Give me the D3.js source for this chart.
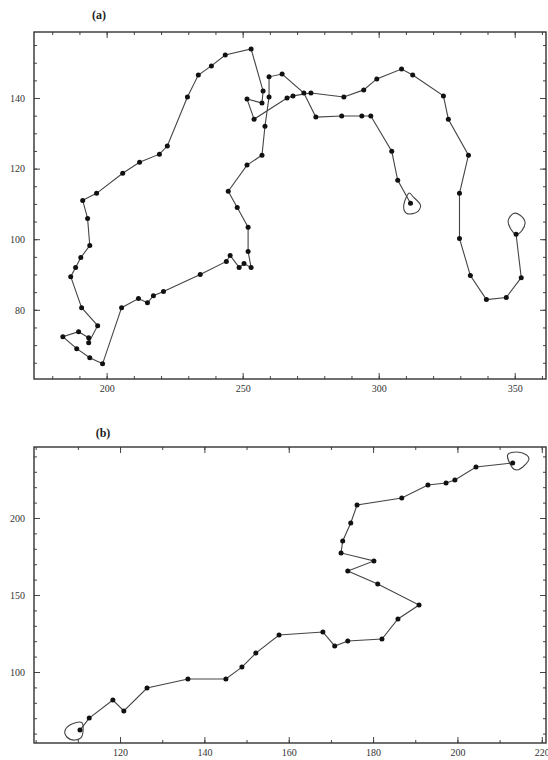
<!DOCTYPE html>
<html>
<head>
<meta charset="utf-8">
<script src="https://cdn.jsdelivr.net/npm/d3@7"></script>
<style>
	body { margin: 0; background: #fff; }
	svg { display: block; }
	.tick text { font-family: "Liberation Serif", "DejaVu Serif", serif; font-size: 10px; fill: #333; }
	.domain { stroke: none; }
	.tick line { stroke: #444; }
	.panel-label { font-family: "Liberation Serif", serif; font-weight: bold; font-size: 12px; fill: #222; }
</style>
</head>
<body>
<div id="chart"></div>
<script>
/* global d3 */

// panel (a): track
var trackA = [
	[350.5, 101.4], [352.4, 89.1], [346.9, 83.5], [339.6, 82.9], [333.7, 89.7],
	[329.7, 100.2], [329.7, 113.0], [333.0, 123.8], [325.6, 134.0], [323.8, 140.6],
	[312.5, 146.5], [308.4, 148.2], [299.3, 145.4], [294.5, 142.3], [287.2, 140.3],
	[275.1, 141.4], [268.5, 140.6], [266.3, 140.0], [254.2, 134.0], [251.6, 139.7],
	[257.1, 138.6], [257.5, 142.0], [253.1, 153.9], [243.6, 152.2], [238.5, 149.1],
	[233.7, 146.5], [229.7, 140.3], [222.3, 126.4], [219.4, 124.1], [212.1, 121.8],
	[205.9, 118.7], [196.3, 113.0], [191.2, 111.0], [193.0, 105.9], [193.8, 98.2],
	[190.5, 94.8], [188.6, 92.0], [186.8, 89.4], [190.8, 80.6], [196.7, 75.5],
	[193.4, 70.7], [193.4, 72.1], [189.7, 73.8], [183.9, 72.4], [189.0, 69.0],
	[193.8, 66.4], [198.5, 64.7], [205.5, 80.6], [211.7, 83.2], [215.0, 82.0],
	[217.2, 84.0], [220.9, 85.2], [234.4, 90.0], [244.0, 93.7], [245.4, 95.4],
	[248.7, 92.0], [250.5, 93.1], [253.1, 92.0], [252.0, 96.5], [252.0, 103.4],
	[248.0, 109.0], [244.7, 113.6], [251.6, 121.0], [257.1, 123.8], [258.2, 132.0],
	[259.7, 140.3], [259.7, 146.0], [264.5, 146.8], [272.5, 141.4], [276.9, 134.6],
	[286.4, 134.9], [293.8, 134.9], [297.1, 134.9], [304.8, 124.9], [307.0, 116.7],
	[311.7, 110.2]
];
var loopAStart = [[350.5, 101.4], [348.4, 103.1], [347.6, 105.3], [349.5, 107.3], [352.0, 106.8], [353.8, 104.8], [352.7, 102.5]];
var loopAEnd = [[311.0, 113.0], [309.2, 109.6], [310.3, 107.3], [313.9, 107.6], [315.4, 109.6], [312.8, 111.9]];
var xTicksA = [200, 250, 300, 350];
var yTicksA = [80, 100, 120, 140];

// panel (b)
var trackB = [
	[110.5, 62.3], [112.7, 70.1], [118.3, 81.8], [120.9, 74.7], [126.4, 89.6],
	[136.1, 95.5], [145.1, 95.5], [148.9, 103.2], [152.2, 112.3], [157.7, 124.0],
	[168.1, 126.0], [170.9, 116.9], [174.0, 120.1], [182.1, 121.4], [185.9, 134.4],
	[190.9, 143.5], [181.1, 157.1], [174.0, 165.6], [180.2, 172.1], [172.4, 177.3],
	[172.8, 185.1], [174.7, 196.8], [176.2, 208.4], [186.8, 213.0], [193.0, 221.4],
	[197.3, 222.7], [199.4, 224.7], [204.4, 233.1], [213.1, 235.7]
];
var loopBStart = [[111.0, 66.9], [108.6, 66.2], [107.0, 62.3], [107.4, 57.8], [109.3, 55.8], [111.0, 58.4]];
var loopBEnd = [[211.9, 240.9], [214.1, 242.9], [216.4, 240.9], [216.9, 237.7], [215.5, 233.1], [214.1, 231.2], [212.9, 233.1]];
var xTicksB = [120, 140, 160, 180, 200, 220];
var yTicksB = [100, 150, 200];

var svg = d3.select("#chart")
	.append("svg")
	.attr("width", 548)
	.attr("height", 760);

function panel(opt) {
	var width = opt.right - opt.left,
		height = opt.bottom - opt.top,
		g = svg.append("g").attr("transform", "translate(" + opt.left + "," + opt.top + ")"),
		x = d3.scaleLinear().domain(opt.xDomain).range([0, width]),
		y = d3.scaleLinear().domain(opt.yDomain).range([height, 0]);

	var minorX = d3.range(Math.ceil(opt.xDomain[0] / opt.xMinor) * opt.xMinor, opt.xDomain[1], opt.xMinor),
		minorY = d3.range(Math.ceil(opt.yDomain[0] / opt.yMinor) * opt.yMinor, opt.yDomain[1], opt.yMinor);

	// minor ticks, all four sides, pointing inward
	g.append("g").attr("transform", "translate(0," + height + ")")
		.call(d3.axisBottom(x).tickValues(minorX).tickSize(-3).tickFormat(""));
	g.append("g")
		.call(d3.axisTop(x).tickValues(minorX).tickSize(-3).tickFormat(""));
	g.append("g")
		.call(d3.axisLeft(y).tickValues(minorY).tickSize(-3).tickFormat(""));
	g.append("g").attr("transform", "translate(" + width + ",0)")
		.call(d3.axisRight(y).tickValues(minorY).tickSize(-3).tickFormat(""));

	// major ticks
	g.append("g").attr("transform", "translate(0," + height + ")")
		.call(d3.axisBottom(x).tickValues(opt.xTicks).tickSize(-6).tickPadding(6).tickFormat(d3.format("d")));
	g.append("g")
		.call(d3.axisTop(x).tickValues(opt.xTicks).tickSize(-6).tickFormat(""));
	g.append("g")
		.call(d3.axisLeft(y).tickValues(opt.yTicks).tickSize(-6).tickPadding(9).tickFormat(d3.format("d")));
	g.append("g").attr("transform", "translate(" + width + ",0)")
		.call(d3.axisRight(y).tickValues(opt.yTicks).tickSize(-6).tickFormat(""));

	g.append("rect")
		.attr("width", width)
		.attr("height", height)
		.attr("fill", "none")
		.attr("stroke", "#333")
		.attr("stroke-width", 1.4);

	var line = d3.line()
		.x(function(d) { return x(d[0]); })
		.y(function(d) { return y(d[1]); });

	g.append("path")
		.datum(opt.track)
		.attr("fill", "none")
		.attr("stroke", "#444")
		.attr("stroke-width", 1.1)
		.attr("d", line);

	var loopLine = d3.line()
		.x(function(d) { return x(d[0]); })
		.y(function(d) { return y(d[1]); })
		.curve(d3.curveCardinalClosed);

	opt.loops.forEach(function(lp) {
		g.append("path")
			.datum(lp)
			.attr("fill", "none")
			.attr("stroke", "#444")
			.attr("stroke-width", 1.1)
			.attr("d", loopLine);
	});

	g.selectAll("circle.pt")
		.data(opt.track)
		.enter().append("circle")
		.attr("class", "pt")
		.attr("r", 2.5)
		.attr("cx", function(d) { return x(d[0]); })
		.attr("cy", function(d) { return y(d[1]); })
		.attr("fill", "#111");

	svg.append("text")
		.attr("class", "panel-label")
		.attr("x", opt.labelX)
		.attr("y", opt.labelY)
		.attr("text-anchor", "middle")
		.text(opt.label);
}

panel({
	left: 34, top: 32, right: 546, bottom: 379,
	xDomain: [173.3, 361.5], yDomain: [60.4, 158.7],
	xTicks: xTicksA, yTicks: yTicksA, xMinor: 10, yMinor: 5,
	track: trackA, loops: [loopAStart, loopAEnd],
	label: "(a)", labelX: 99, labelY: 19
});

panel({
	left: 34, top: 447, right: 546, bottom: 743,
	xDomain: [99.6, 221.0], yDomain: [53.9, 246.1],
	xTicks: xTicksB, yTicks: yTicksB, xMinor: 10, yMinor: 10,
	track: trackB, loops: [loopBStart, loopBEnd],
	label: "(b)", labelX: 103, labelY: 437
});
</script>
</body>
</html>
